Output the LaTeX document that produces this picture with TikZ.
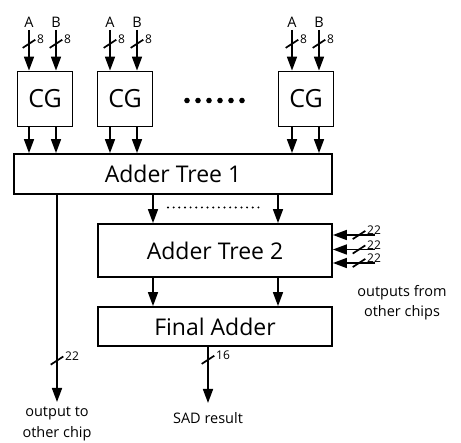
\documentclass[tikz,border=0pt]{standalone}
\usepackage{fontspec}
\setmainfont{Open Sans}
\usetikzlibrary{arrows.meta,positioning}
\tikzset{
    %Define style for blocks
    blok/.style={
           rectangle,
           draw=black, line width=1.8pt,
           inner sep=0pt,
           font=\fontsize{23}{25}\selectfont},
    cgblok/.style={
           blok,
           minimum width=55pt,
           minimum height=55pt,
           font=\fontsize{25}{27}\selectfont},
    % Define arrow style
    pil/.style={
           -{Triangle[length=14pt,width=10pt]},
           line width=1.7pt},
    % Slash across a bus and its width
    buscut/.style={
           rectangle, draw, line width=1.7pt,
           rotate=33,
           minimum width=15pt, minimum height=0pt,
           inner sep=0pt},
    buswd/.style={
           font=\fontsize{12}{13}\selectfont,
           inner sep=1pt, anchor=west},
    % Signal names
    sig/.style={
           font=\fontsize{14.5}{20.5}\selectfont,
           inner sep=1pt, align=center}
}

\begin{document}
\begin{tikzpicture}[x=1pt,y=-1pt]
\useasboundingbox (0,0) rectangle (461,443);

% The CG blocks with their inputs A and B
\node[cgblok] (cg1) at (45,99) {CG};
\node[cgblok] (cg2) at (125,99) {CG};
\node[cgblok] (cg3) at (306,99) {CG};

\coordinate (a1) at (29,30);  \coordinate (b1) at (56,30);
\coordinate (a2) at (110,30); \coordinate (b2) at (137,30);
\coordinate (a3) at (292,30); \coordinate (b3) at (319,30);

\node[sig, above=1pt of a1] {A}; \node[sig, above=1pt of b1] {B};
\node[sig, above=1pt of a2] {A}; \node[sig, above=1pt of b2] {B};
\node[sig, above=1pt of a3] {A}; \node[sig, above=1pt of b3] {B};

\draw[pil] (a1) -- node[buscut, pos=.34] (sa1) {} (cg1.north -| a1);
\draw[pil] (b1) -- node[buscut, pos=.34] (sb1) {} (cg1.north -| b1);
\draw[pil] (a2) -- node[buscut, pos=.34] (sa2) {} (cg2.north -| a2);
\draw[pil] (b2) -- node[buscut, pos=.34] (sb2) {} (cg2.north -| b2);
\draw[pil] (a3) -- node[buscut, pos=.34] (sa3) {} (cg3.north -| a3);
\draw[pil] (b3) -- node[buscut, pos=.34] (sb3) {} (cg3.north -| b3);
\node[buswd] at (sa1.east) {8}; \node[buswd] at (sb1.east) {8};
\node[buswd] at (sa2.east) {8}; \node[buswd] at (sb2.east) {8};
\node[buswd] at (sa3.east) {8}; \node[buswd] at (sb3.east) {8};

% More CG blocks in between
\foreach \i in {0,...,5}
    \fill (187+11*\i,100.5) circle (2.8pt);

% The adder trees and the final adder
\node[blok, minimum width=318pt, minimum height=40pt] (at1) at (173,174) {Adder Tree 1};
\node[blok, minimum width=234pt, minimum height=53pt] (at2) at (215,250.5) {Adder Tree 2};
\node[blok, minimum width=234pt, minimum height=39pt] (fa) at (215,326.5) {Final Adder};

\draw[pil] (cg1.south -| a1) -- (at1.north -| a1);
\draw[pil] (cg1.south -| b1) -- (at1.north -| b1);
\draw[pil] (cg2.south -| a2) -- (at1.north -| a2);
\draw[pil] (cg2.south -| b2) -- (at1.north -| b2);
\draw[pil] (cg3.south -| a3) -- (at1.north -| a3);
\draw[pil] (cg3.south -| b3) -- (at1.north -| b3);

\coordinate (l) at (153,0);
\coordinate (r) at (278,0);
\draw[pil] (at1.south -| l) -- (at2.north -| l);
\draw[pil] (at1.south -| r) -- (at2.north -| r);
\draw[line width=2.2pt, line cap=round, dash pattern=on 0pt off 5.65pt] (168,207.5) -- (264,207.5);
\draw[pil] (at2.south -| l) -- (fa.north -| l);
\draw[pil] (at2.south -| r) -- (fa.north -| r);

% Inputs from the other chips
\coordinate (in1) at (375,235);
\coordinate (in2) at (375,249.5);
\coordinate (in3) at (375,263);
\draw[pil] (in1) -- node[buscut, pos=.38] (si1) {} (at2.east |- in1);
\draw[pil] (in2) -- node[buscut, pos=.38] (si2) {} (at2.east |- in2);
\draw[pil] (in3) -- node[buscut, pos=.38] (si3) {} (at2.east |- in3);
\node[buswd] at (si1.east) {22};
\node[buswd] at (si2.east) {22};
\node[buswd] at (si3.east) {22};
\node[sig] (oth) at (402,302.5) {outputs from\\other chips};

% Outputs
\coordinate (oc) at (57,402);
\coordinate (sad) at (208,403);
\draw[pil] (at1.south -| oc) -- node[buscut, pos=.8] (so) {} (oc);
\draw[pil] (fa.south -| sad) -- node[buscut, pos=.23] (ss) {} (sad);
\node[buswd] at (so.east) {22};
\node[buswd] at (ss.east) {16};
\node[sig, below=4pt of oc] {output to\\other chip};
\node[sig, below=8pt of sad] {SAD result};
\end{tikzpicture}
\end{document}
